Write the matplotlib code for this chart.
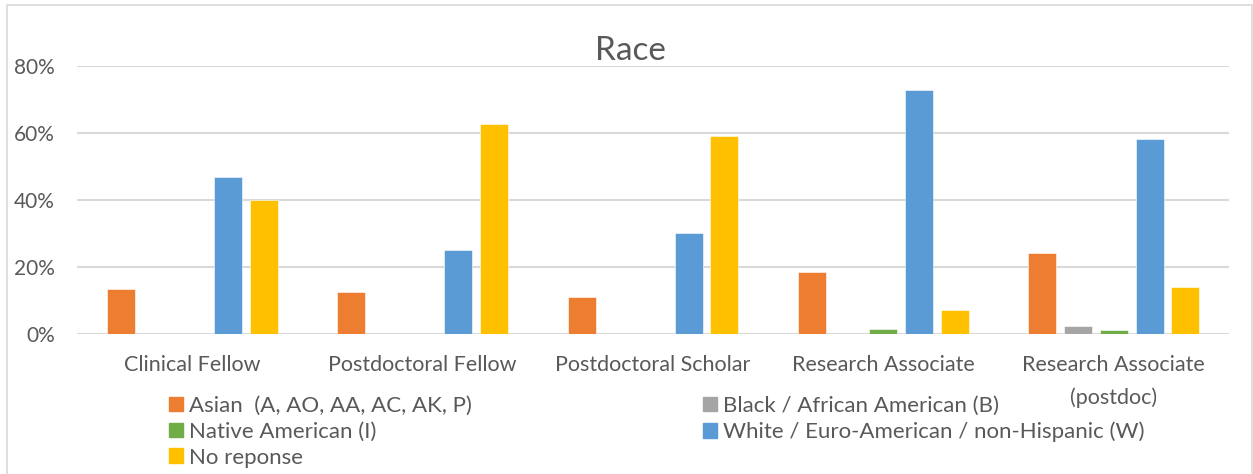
import numpy as np
import matplotlib.pyplot as plt
from matplotlib.patches import Rectangle, Patch

plt.rcParams['font.family'] = ['Lato', 'DejaVu Sans']

positions = ['Clinical Fellow', 'Postdoctoral Fellow', 'Postdoctoral Scholar',
             'Research Associate', 'Research Associate\n(postdoc)']

# share of each position, fraction 0-1
asian = [0.133, 0.125, 0.111, 0.185, 0.240]
black = [0.0, 0.0, 0.0, 0.0, 0.023]
native = [0.0, 0.0, 0.0, 0.013, 0.011]
white = [0.467, 0.250, 0.300, 0.728, 0.581]
no_response = [0.400, 0.625, 0.589, 0.071, 0.139]

series = [
    ('Asian  (A, AO, AA, AC, AK, P)', asian, '#ED7D31'),
    ('Black / African American (B)', black, '#A5A5A5'),
    ('Native American (I)', native, '#70AD47'),
    ('White / Euro-American / non-Hispanic (W)', white, '#5B9BD5'),
    ('No reponse', no_response, '#FFC000'),
]

txt = '#595959'
W, H = 1253, 474
fig = plt.figure(figsize=(W / 100, H / 100), dpi=100)
ax = fig.add_axes([77 / W, 1 - 333.7 / H, (1229 - 77) / W, (333.7 - 65.7) / H])

x = np.arange(len(positions))
step = 0.155
width = 0.1215
for i, (name, vals, col) in enumerate(series):
    ax.bar(x + (i - 2) * step, vals, width, color=col, edgecolor='white',
           linewidth=0.4, zorder=3)

ax.set_xlim(-0.5, len(positions) - 0.5)
ax.set_ylim(0, 0.8)
ax.set_yticks([0, 0.2, 0.4, 0.6, 0.8])
ax.set_yticklabels(['0%', '20%', '40%', '60%', '80%'])
ax.grid(axis='y', color='#D9D9D9', linewidth=1.5, zorder=0)
ax.set_xticks(x)
ax.set_xticklabels(positions, linespacing=1.75)
for s in ax.spines.values():
    s.set_visible(False)
ax.tick_params(axis='y', length=0, pad=16, labelsize=15, labelcolor=txt)
ax.tick_params(axis='x', length=0, pad=15.5, labelsize=15.5, labelcolor=txt)

fig.text(630 / W, 1 - 60 / H, 'Race', ha='center', va='baseline',
         fontsize=24, color=txt)

# legend in two columns, filled row by row
handles = [Patch(color=c, label=n) for n, v, c in series]
kw = dict(frameon=False, fontsize=16, labelcolor=txt, handlelength=0.63,
          handleheight=0.63, handletextpad=0.28, labelspacing=0.26,
          borderaxespad=0, borderpad=0)
fig.legend(handles=[handles[0], handles[2], handles[4]],
           loc='upper left', bbox_to_anchor=(169 / W, 1 - 396 / H), **kw)
fig.legend(handles=[handles[1], handles[3]],
           loc='upper left', bbox_to_anchor=(703 / W, 1 - 396 / H), **kw)

# chart border
fig.patches.append(Rectangle((7 / W, -0.01), 1245 / W, 1 - 5 / H + 0.01,
                             transform=fig.transFigure, fill=False,
                             edgecolor='#D9D9D9', linewidth=1.2))

fig.savefig('out.png', dpi=100)
